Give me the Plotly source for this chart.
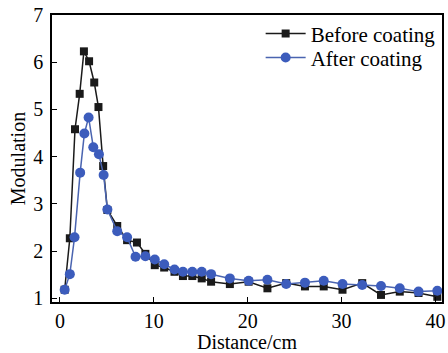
import plotly.graph_objects as go

# Before coating (black squares)
before_x = [0.5, 1.05, 1.6, 2.1, 2.55, 3.1, 3.65, 4.1, 4.6, 5.05, 6.1, 7.15, 8.2, 9.1, 10.1, 11.1, 12.2, 13.1, 14.1, 15.1, 16.1, 18.1, 20.1, 22.1, 24.1, 26.1, 28.1, 30.1, 32.2, 34.2, 36.2, 38.2, 40.2]
before_y = [1.18, 2.27, 4.58, 5.33, 6.23, 6.02, 5.57, 5.05, 3.80, 2.87, 2.53, 2.23, 2.18, 1.94, 1.70, 1.65, 1.56, 1.47, 1.47, 1.42, 1.35, 1.30, 1.35, 1.21, 1.32, 1.25, 1.25, 1.18, 1.32, 1.07, 1.14, 1.11, 1.03]

# After coating (blue circles)
after_x = [0.5, 1.05, 1.55, 2.15, 2.6, 3.05, 3.55, 4.15, 4.65, 5.05, 6.1, 7.15, 8.05, 9.1, 10.1, 11.1, 12.2, 13.1, 14.1, 15.1, 16.1, 18.1, 20.1, 22.1, 24.1, 26.1, 28.1, 30.1, 32.2, 34.2, 36.2, 38.2, 40.2]
after_y = [1.18, 1.51, 2.29, 3.66, 4.49, 4.83, 4.20, 4.05, 3.61, 2.88, 2.42, 2.29, 1.88, 1.89, 1.82, 1.72, 1.61, 1.56, 1.56, 1.56, 1.51, 1.42, 1.37, 1.39, 1.30, 1.33, 1.37, 1.30, 1.28, 1.26, 1.21, 1.14, 1.16]

x_ticks = [0, 10, 20, 30, 40]
y_ticks = [1, 2, 3, 4, 5, 6, 7]

FONT = "Liberation Serif"

fig = go.Figure()
fig.add_trace(go.Scatter(
    x=before_x, y=before_y, mode="lines+markers", name="Before coating",
    line=dict(color="#1a1a1a", width=1.5),
    marker=dict(symbol="square", size=8, color="#1a1a1a"),
    legend="legend", showlegend=True,
))
fig.add_trace(go.Scatter(
    x=after_x, y=after_y, mode="lines+markers", name="After coating",
    line=dict(color="#4a64b0", width=1.5),
    marker=dict(symbol="circle", size=10, color="#3c5cbc"),
    legend="legend2", showlegend=True,
))

axis_common = dict(
    showline=True, linecolor="black", linewidth=1.5, mirror=True,
    ticks="inside", ticklen=5, tickwidth=1.2, tickcolor="black",
    showgrid=False, zeroline=False,
    tickfont=dict(family=FONT, size=20, color="black"),
)

fig.update_xaxes(
    range=[-0.85, 40.7], tickvals=x_ticks, automargin=False,
    title=dict(text="Distance/cm", font=dict(family=FONT, size=20, color="black")),
    **axis_common,
)
fig.update_yaxes(
    range=[0.92, 7.0], tickvals=y_ticks, automargin=True, ticklabelstandoff=3,
    title=dict(text="Modulation", font=dict(family=FONT, size=20, color="black"), standoff=2),
    **axis_common,
)

legend_common = dict(
    xanchor="left", yanchor="middle",
    font=dict(family=FONT, size=21, color="black"),
    bgcolor="rgba(0,0,0,0)", borderwidth=0, itemwidth=40,
)

fig.update_layout(
    width=448, height=353,
    margin=dict(l=52, r=4, t=14, b=51),
    plot_bgcolor="white", paper_bgcolor="white",
    font=dict(family=FONT, color="black"),
    showlegend=True,
    legend=dict(x=0.535, y=0.934, **legend_common),
    legend2=dict(x=0.535, y=0.851, **legend_common),
)

fig.write_html(
    "out.html",
    config={"displayModeBar": False},
    post_script="document.body.style.margin='0';document.body.style.overflow='hidden';",
)
